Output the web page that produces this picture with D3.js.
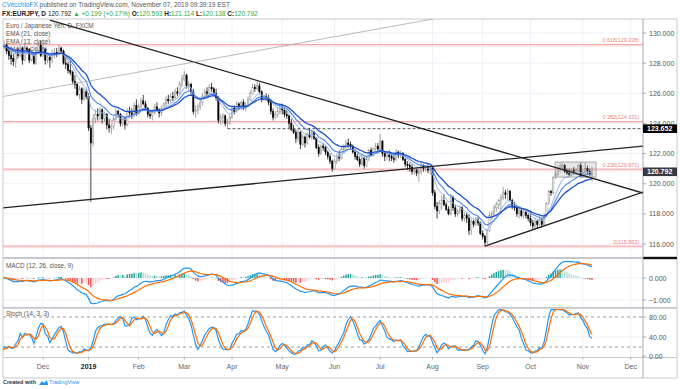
<!DOCTYPE html>
<html>
<head>
<meta charset="utf-8">
<script src="https://cdn.jsdelivr.net/npm/d3@7"></script>
<style>
  body { margin: 0; background: #fff; }
  svg { display: block; font-family: "Liberation Sans", Arial, sans-serif; }
</style>
</head>
<body>
<svg id="chart" width="680" height="389"></svg>
<script>
// daily EURJPY bars [open, high, low, close], Nov 7 2018 -> Nov 7 2019
var candles = [
  // Nov 2018
  [129.6,129.9,129.0,129.1],[129.1,129.5,128.9,129.2],[129.2,129.3,128.6,128.8],[128.8,129.0,128.2,128.5],
  [128.5,128.8,127.9,128.3],[128.3,128.6,127.8,128.1],[128.1,128.9,127.7,128.7],[128.7,129.0,128.3,128.5],
  [128.5,129.2,128.4,129.0],[129.0,129.1,127.9,128.2],[128.2,129.3,128.1,129.0],[129.0,129.1,128.6,128.9],
  [128.9,129.0,128.0,128.2],[128.2,128.8,128.1,128.6],[128.6,128.7,127.9,128.0],[128.0,129.0,127.9,128.8],
  [128.8,129.4,128.6,129.2],[129.2,129.5,128.4,128.5],
  // Dec 2018
  [128.5,129.3,128.4,128.9],[128.9,129.0,127.9,128.2],[128.2,128.6,128.0,128.4],[128.4,128.6,127.7,128.2],
  [128.2,128.9,128.0,128.6],[128.6,129.0,128.3,128.7],[128.7,129.0,128.4,128.6],[128.6,129.2,128.5,129.0],
  [129.0,129.1,128.6,128.8],[128.8,128.9,127.9,128.0],[128.0,128.4,127.6,127.9],[127.9,128.1,127.3,127.5],
  [127.5,128.2,127.2,127.4],[127.4,127.5,126.6,126.8],[126.8,127.2,126.3,126.6],[126.6,126.7,125.8,125.9],
  [125.9,126.5,125.6,126.3],[126.3,126.4,125.3,125.6],[125.6,126.4,125.5,126.1],[126.1,126.3,125.6,125.8],
  // Jan 2019
  [125.8,126.0,123.5,123.7],[123.7,123.9,118.8,122.7],[122.7,124.6,122.5,124.3],[124.3,124.9,124.0,124.6],
  [124.6,125.0,124.2,124.5],[124.5,125.1,124.2,124.9],[124.9,125.0,124.0,124.3],[124.3,124.8,124.1,124.6],
  [124.6,124.7,123.6,123.9],[123.9,124.3,123.4,123.7],[123.7,124.0,123.3,123.8],[123.8,124.5,123.6,124.3],
  [124.3,125.0,124.2,124.8],[124.8,124.9,124.4,124.6],[124.6,124.7,123.8,124.0],[124.0,124.5,123.8,124.3],
  [124.3,124.5,123.6,123.9],[123.9,125.0,123.8,124.8],[124.8,125.1,124.4,124.7],[124.7,125.0,124.3,124.6],
  [124.6,125.4,124.4,125.2],[125.2,125.6,124.5,124.7],
  // Feb 2019
  [124.7,125.3,124.6,125.1],[125.1,125.7,125.0,125.5],[125.5,125.9,125.2,125.3],[125.3,125.5,124.9,125.0],
  [125.0,125.1,124.4,124.6],[124.6,124.8,124.3,124.5],[124.5,124.9,124.2,124.7],[124.7,125.3,124.6,125.1],
  [125.1,125.4,124.8,124.9],[124.9,125.0,124.4,124.7],[124.7,125.2,124.5,125.0],[125.0,125.4,124.9,125.3],
  [125.3,125.8,125.1,125.6],[125.6,125.9,125.3,125.5],[125.5,126.0,125.4,125.8],[125.8,126.1,125.5,125.7],
  [125.7,126.3,125.6,126.1],[126.1,126.4,125.8,126.0],[126.0,126.8,125.9,126.6],[126.6,127.2,126.4,127.0],
  // Mar 2019
  [126.9,127.5,126.8,127.2],[127.2,127.3,126.3,126.5],[126.5,126.8,126.2,126.6],[126.6,126.7,125.9,126.1],
  [126.1,126.3,124.6,124.8],[124.8,125.2,124.4,124.9],[124.9,125.3,124.6,125.1],[125.1,125.6,124.9,125.4],
  [125.4,126.0,125.2,125.8],[125.8,126.3,125.6,126.1],[126.1,126.4,125.8,126.0],[126.0,126.6,125.9,126.4],
  [126.4,126.7,126.1,126.3],[126.3,126.4,125.8,126.0],[126.0,126.3,125.5,125.7],[125.7,125.8,124.0,124.2],
  [124.2,124.6,123.9,124.4],[124.4,124.7,124.0,124.5],[124.5,124.6,123.8,124.0],[124.0,124.3,123.65,124.1],
  [124.1,124.6,123.9,124.4],
  // Apr 2019
  [124.4,125.2,124.3,125.0],[125.0,125.2,124.6,124.8],[124.8,125.5,124.7,125.3],[125.3,125.4,124.9,125.1],
  [125.1,125.5,124.9,125.4],[125.4,125.6,124.9,125.0],[125.0,125.4,124.8,125.2],[125.2,125.8,125.1,125.6],
  [125.6,126.2,125.5,126.0],[126.0,126.6,125.9,126.4],[126.4,126.6,126.1,126.3],[126.3,126.8,126.2,126.5],
  [126.5,126.7,126.0,126.1],[126.1,126.2,125.4,125.6],[125.6,125.9,125.5,125.8],[125.8,126.0,125.5,125.7],
  [125.7,125.9,125.2,125.4],[125.4,125.5,124.6,124.8],[124.8,125.0,124.2,124.4],[124.4,124.8,124.3,124.6],
  [124.6,125.0,124.4,124.8],[124.8,125.2,124.6,125.0],
  // May 2019
  [125.0,125.3,124.6,124.9],[124.9,125.0,124.4,124.6],[124.6,124.9,124.3,124.5],[124.5,124.6,123.7,124.0],
  [124.0,124.3,123.5,123.6],[123.6,123.9,123.3,123.4],[123.4,123.6,122.7,123.0],[123.0,123.6,122.8,123.4],
  [123.4,123.5,122.3,122.6],[122.6,123.3,122.5,123.1],[123.1,123.2,122.4,122.7],[122.7,123.4,122.6,123.3],
  [123.3,123.7,123.0,123.1],[123.1,123.6,122.9,123.4],[123.4,123.5,122.9,123.0],[123.0,123.1,122.3,122.4],
  [122.4,122.6,121.8,122.0],[122.0,122.6,121.9,122.5],[122.5,122.7,122.2,122.4],[122.4,122.5,121.9,122.1],
  [122.1,122.2,121.6,121.8],[121.8,122.0,121.3,121.5],[121.5,121.6,120.8,121.0],
  // Jun 2019
  [121.0,121.7,120.9,121.5],[121.5,122.0,121.3,121.8],[121.8,122.2,121.5,121.7],[121.7,122.5,121.6,122.3],
  [122.3,122.6,122.0,122.4],[122.4,122.9,122.2,122.7],[122.7,123.0,122.4,122.6],[122.6,122.8,122.3,122.5],
  [122.5,122.6,122.0,122.1],[122.1,122.3,121.6,121.8],[121.8,122.0,121.5,121.6],[121.6,121.8,121.1,121.3],
  [121.3,121.9,121.2,121.7],[121.7,121.8,121.0,121.2],[121.2,121.8,121.1,121.6],[121.6,122.3,121.5,122.2],
  [122.2,122.4,121.8,121.9],[121.9,122.4,121.8,122.3],[122.3,122.7,122.2,122.5],[122.5,122.7,122.1,122.3],
  // Jul 2019
  [122.3,123.3,122.2,122.8],[122.8,122.9,121.8,122.0],[122.0,122.1,121.5,121.8],[121.8,122.0,121.6,121.9],
  [121.9,122.2,121.5,121.8],[121.8,122.0,121.5,121.7],[121.7,121.9,121.4,121.6],[121.6,122.3,121.5,122.1],
  [122.1,122.2,121.7,121.9],[121.9,122.2,121.7,122.0],[122.0,122.1,121.5,121.6],[121.6,121.7,121.1,121.3],
  [121.3,121.5,120.9,121.2],[121.2,121.4,120.8,121.1],[121.1,121.3,120.6,120.8],[120.8,121.0,120.6,120.9],
  [120.9,121.0,120.5,120.7],[120.7,121.0,120.1,120.8],[120.8,121.4,120.6,121.2],[121.2,121.3,120.8,121.0],
  [121.0,121.2,120.8,121.1],[121.1,121.3,120.7,120.9],[120.9,121.2,120.6,121.0],
  // Aug 2019
  [121.0,121.1,119.2,119.4],[119.4,119.6,118.3,118.5],[118.5,118.8,117.7,118.2],[118.2,118.9,118.0,118.7],
  [118.7,119.2,118.3,118.9],[118.9,119.3,118.5,118.6],[118.6,118.8,118.2,118.3],[118.3,118.5,117.9,118.0],
  [118.0,119.3,117.9,119.1],[119.1,119.2,118.2,118.4],[118.4,118.6,117.8,118.0],[118.0,118.3,117.8,118.2],
  [118.2,118.6,118.0,118.4],[118.4,118.5,117.5,117.7],[117.7,118.1,117.5,117.9],[117.9,118.1,117.4,117.7],
  [117.7,118.0,116.6,116.9],[116.9,117.7,116.6,117.5],[117.5,117.6,117.1,117.3],[117.3,117.8,117.2,117.6],
  [117.6,117.8,117.2,117.4],[117.4,117.5,116.6,116.7],
  // Sep 2019
  [116.7,116.9,116.3,116.5],[116.5,116.6,115.86,116.1],[116.1,117.0,116.0,116.9],[116.9,118.1,116.8,117.9],
  [117.9,118.2,117.6,118.0],[118.0,118.6,117.8,118.4],[118.4,118.8,118.1,118.6],[118.6,119.0,118.3,118.9],
  [118.9,119.3,118.0,119.1],[119.1,119.8,118.9,119.4],[119.4,119.6,119.0,119.3],[119.3,119.7,118.9,119.5],
  [119.5,119.6,118.8,118.9],[118.9,119.0,118.3,118.5],[118.5,118.8,118.2,118.4],[118.4,118.6,117.8,118.0],
  [118.0,118.5,117.7,118.2],[118.2,118.4,117.8,117.9],[117.9,118.3,117.7,118.1],[118.1,118.3,117.7,117.9],
  [117.9,118.0,117.5,117.7],
  // Oct 2019
  [117.7,118.0,117.2,117.4],[117.4,117.6,117.0,117.2],[117.2,117.7,116.96,117.5],[117.5,117.6,117.0,117.3],
  [117.3,117.8,117.2,117.6],[117.6,117.7,117.1,117.3],[117.3,118.0,117.2,117.9],[117.9,118.8,117.8,118.7],
  [118.7,119.6,118.6,119.5],[119.5,119.6,119.2,119.4],[119.4,120.5,119.3,120.4],[120.4,120.8,120.3,120.6],
  [120.6,121.2,120.5,121.0],[121.0,121.4,120.8,121.1],[121.1,121.4,120.9,121.2],[121.2,121.3,120.7,120.8],
  [120.8,121.0,120.6,120.7],[120.7,121.0,120.5,120.6],[120.6,121.0,120.5,120.9],[120.9,121.1,120.7,120.8],
  [120.8,121.0,120.7,120.9],[120.9,121.3,120.8,121.2],[121.2,121.4,120.4,120.5],
  // Nov 2019
  [120.5,120.9,120.4,120.7],[120.7,121.4,120.6,121.0],[121.0,121.2,120.6,120.8],[120.8,121.0,120.5,120.6],
  [120.593,121.114,120.138,120.792]
];

var priceTicks = [116, 118, 120, 122, 124, 126, 128, 130];
var macdTicks = [0, -1];
var stochTicks = [80, 40, 0];
var stochBands = [80, 20];
var monthLabels = ["Dec", "2019", "Feb", "Mar", "Apr", "May", "Jun", "Jul", "Aug", "Sep", "Oct", "Nov", "Dec"];
var fibLevels = [
  { ratio: "0.618", value: 129.238 },
  { ratio: "0.382", value: 124.131 },
  { ratio: "0.236", value: 120.971 },
  { ratio: "0", value: 115.863 }
];
// drawings: [bar index, price] anchors
var trendLines = [
  { a: [21, 130.86], b: [281.4, 119.38], color: "#222", w: 1.3 },
  { a: [-0.9, 125.75], b: [191.8, 131.0], color: "#a8a8a8", w: 0.8 },
  { a: [0.4, 118.39], b: [281.4, 122.5], color: "#222", w: 1.3 },
  { a: [212, 115.86], b: [281.4, 119.45], color: "#222", w: 1.3 }
];
var dashedLevel = { from: 99, value: 123.652 };
var boxZone = { from: 242.8, to: 260.8, top: 121.44, bottom: 120.44 };
var lastPrice = 120.792;

// weekday calendar (FXCM skips Dec 25 and Jan 1)
var skipDays = ["2018-12-25", "2019-01-01"];
var dates = [];
for (var d = new Date(Date.UTC(2018, 10, 7)); d <= new Date(Date.UTC(2019, 11, 6)); d.setUTCDate(d.getUTCDate() + 1)) {
  var wd = d.getUTCDay();
  var iso = d.toISOString().slice(0, 10);
  if (wd === 0 || wd === 6 || skipDays.indexOf(iso) >= 0) continue;
  dates.push(new Date(d));
}

var left = 3, right = 643;
var pMain = { top: 19, bottom: 257 };
var pMacd = { top: 259, bottom: 307 };
var pStoch = { top: 308.5, bottom: 357 };

var svg = d3.select("#chart");

var x = d3.scaleLinear().domain([0, 276]).range([2, 2 + 276 * 2.278]);
var y = d3.scaleLinear().domain([116, 130]).range([244, 33]);
var yM = d3.scaleLinear().domain([-1, 0]).range([300, 278]);
var yS = d3.scaleLinear().domain([0, 100]).range([357, 307]);

// indicators
function ema(vals, n) {
  var k = 2 / (n + 1), out = [], prev = vals[0];
  vals.forEach(function(v, i) { prev = i === 0 ? v : v * k + prev * (1 - k); out.push(prev); });
  return out;
}
function sma(vals, n) {
  return vals.map(function(v, i) {
    return d3.mean(vals.slice(Math.max(0, i - n + 1), i + 1));
  });
}
var closes = candles.map(function(c) { return c[3]; });
var ema8 = ema(closes, 8), ema13 = ema(closes, 13), ema21 = ema(closes, 21);
var e12 = ema(closes, 12), e26 = ema(closes, 26);
var macd = closes.map(function(c, i) { return e12[i] - e26[i]; });
var signal = ema(macd, 9);
var hist = macd.map(function(m, i) { return m - signal[i]; });
var rawK = candles.map(function(c, i) {
  var w = candles.slice(Math.max(0, i - 13), i + 1);
  var hh = d3.max(w, function(b) { return b[1]; }), ll = d3.min(w, function(b) { return b[2]; });
  return hh === ll ? 50 : 100 * (c[3] - ll) / (hh - ll);
});
var stK = sma(rawK, 3), stD = sma(stK, 3);

// clip paths
var defs = svg.append("defs");
[["clipMain", pMain], ["clipMacd", pMacd], ["clipStoch", pStoch]].forEach(function(p) {
  defs.append("clipPath").attr("id", p[0]).append("rect")
    .attr("x", left).attr("y", p[1].top).attr("width", right - left).attr("height", p[1].bottom - p[1].top);
});

// month positions
var monthIdx = [];
dates.forEach(function(dt, i) {
  if (i > 0 && dt.getUTCMonth() !== dates[i - 1].getUTCMonth()) monthIdx.push(i);
});

// grid
var grid = svg.append("g").attr("stroke", "#edf1f7").attr("stroke-width", 1);
monthIdx.forEach(function(i) {
  grid.append("line").attr("x1", x(i)).attr("x2", x(i)).attr("y1", pMain.top).attr("y2", pStoch.bottom);
});
priceTicks.forEach(function(t) {
  grid.append("line").attr("x1", left).attr("x2", right).attr("y1", y(t)).attr("y2", y(t));
});
macdTicks.forEach(function(t) {
  grid.append("line").attr("x1", left).attr("x2", right).attr("y1", yM(t)).attr("y2", yM(t));
});
grid.append("line").attr("x1", left).attr("x2", right).attr("y1", yS(40)).attr("y2", yS(40));

// legends
var leg = svg.append("g").attr("fill", "#555").style("font-size", "6.3px");
leg.append("text").attr("x", 6).attr("y", 28).text("Euro / Japanese Yen, D, FXCM");
leg.append("text").attr("x", 6).attr("y", 36).text("EMA (21, close)");
leg.append("text").attr("x", 6).attr("y", 43.5).text("EMA (13, close)");
leg.append("text").attr("x", 6).attr("y", 51).text("EMA (8, close)");
leg.append("text").attr("x", 6).attr("y", 268).text("MACD (12, 26, close, 9)");
leg.append("text").attr("x", 6).attr("y", 315.5).text("Stoch (14, 3, 3)");

// fib levels
var fib = svg.append("g").attr("clip-path", "url(#clipMain)");
fibLevels.forEach(function(f) {
  fib.append("rect").attr("x", left).attr("width", right - left)
    .attr("y", y(f.value)).attr("height", 2.2).attr("fill", "#fde4e4");
  fib.append("line").attr("x1", left).attr("x2", right).attr("y1", y(f.value)).attr("y2", y(f.value))
    .attr("stroke", "#f3a3a3").attr("stroke-width", 1);
  fib.append("text").attr("x", 639).attr("y", y(f.value) - 2).attr("text-anchor", "end")
    .attr("fill", "#ef7f7f").style("font-size", "5.4px").text(f.ratio + "(" + f.value.toFixed(3) + ")");
});

// candles
var cg = svg.append("g").attr("clip-path", "url(#clipMain)");
function isUp(c) { return c[3] >= c[0]; }
cg.selectAll("line.wick").data(candles).enter().append("line")
  .attr("x1", function(c, i) { return x(i); }).attr("x2", function(c, i) { return x(i); })
  .attr("y1", function(c) { return y(c[1]); }).attr("y2", function(c) { return y(c[2]); })
  .attr("stroke", function(c) { return isUp(c) ? "#8c8c8c" : "#111"; }).attr("stroke-width", 0.8);
cg.selectAll("rect.body").data(candles).enter().append("rect")
  .attr("x", function(c, i) { return x(i) - 0.65; }).attr("width", 1.3)
  .attr("y", function(c) { return y(Math.max(c[0], c[3])); })
  .attr("height", function(c) { return Math.max(0.5, Math.abs(y(c[0]) - y(c[3]))); })
  .attr("fill", function(c) { return isUp(c) ? "#fff" : "#000"; })
  .attr("stroke", function(c) { return isUp(c) ? "#8c8c8c" : "#000"; }).attr("stroke-width", 0.5);

// EMAs
var emaLine = d3.line().x(function(v, i) { return x(i); }).y(function(v) { return y(v); });
[[ema8, "#8fb3ee", 1], [ema13, "#4f86e6", 1.1], [ema21, "#1d4fcf", 1.3]].forEach(function(e) {
  cg.append("path").attr("d", emaLine(e[0])).attr("fill", "none")
    .attr("stroke", e[1]).attr("stroke-width", e[2]);
});

// drawings
var dr = svg.append("g").attr("clip-path", "url(#clipMain)");
dr.append("rect").attr("x", x(boxZone.from)).attr("width", x(boxZone.to) - x(boxZone.from))
  .attr("y", y(boxZone.top)).attr("height", y(boxZone.bottom) - y(boxZone.top))
  .attr("fill", "rgba(140,140,140,0.22)").attr("stroke", "#9a9a9a").attr("stroke-width", 0.8);
dr.append("line").attr("x1", x(dashedLevel.from)).attr("x2", right)
  .attr("y1", y(dashedLevel.value)).attr("y2", y(dashedLevel.value))
  .attr("stroke", "#555").attr("stroke-width", 1).attr("stroke-dasharray", "3,2");
trendLines.forEach(function(t) {
  dr.append("line").attr("x1", x(t.a[0])).attr("y1", y(t.a[1])).attr("x2", x(t.b[0])).attr("y2", y(t.b[1]))
    .attr("stroke", t.color).attr("stroke-width", t.w);
});

// MACD pane
var mg = svg.append("g").attr("clip-path", "url(#clipMacd)");
mg.selectAll("rect").data(hist).enter().append("rect")
  .attr("x", function(h, i) { return x(i) - 0.75; }).attr("width", 1.5)
  .attr("y", function(h) { return Math.min(yM(h), yM(0)); })
  .attr("height", function(h) { return Math.abs(yM(h) - yM(0)); })
  .attr("fill", function(h, i) {
    var p = i > 0 ? hist[i - 1] : h;
    if (h >= 0) return h > p ? "#26a69a" : "#b2dfdb";
    return h < p ? "#ef5350" : "#ffcdd2";
  });
var mLine = d3.line().x(function(v, i) { return x(i); }).y(function(v) { return yM(v); });
mg.append("path").attr("d", mLine(macd)).attr("fill", "none").attr("stroke", "#2196f3").attr("stroke-width", 1.2);
mg.append("path").attr("d", mLine(signal)).attr("fill", "none").attr("stroke", "#ff6d00").attr("stroke-width", 1.2);

// Stoch pane
var sg = svg.append("g").attr("clip-path", "url(#clipStoch)");
stochBands.forEach(function(b) {
  sg.append("line").attr("x1", left).attr("x2", right).attr("y1", yS(b)).attr("y2", yS(b))
    .attr("stroke", "#a0a0a0").attr("stroke-width", 1).attr("stroke-dasharray", "3,3");
});
var sLine = d3.line().x(function(v, i) { return x(i); }).y(function(v) { return yS(v); });
sg.append("path").attr("d", sLine(stK)).attr("fill", "none").attr("stroke", "#2196f3").attr("stroke-width", 1.2);
sg.append("path").attr("d", sLine(stD)).attr("fill", "none").attr("stroke", "#ff6d00").attr("stroke-width", 1.2);

// frame and separators
var fr = svg.append("g");
fr.append("rect").attr("x", left).attr("y", pMain.top).attr("width", 677 - left).attr("height", 378 - pMain.top)
  .attr("fill", "none").attr("stroke", "#b8bcc4").attr("stroke-width", 0.8);
[258, 307.8].forEach(function(s) {
  fr.append("line").attr("x1", left).attr("x2", right).attr("y1", s).attr("y2", s)
    .attr("stroke", "#c4c7cd").attr("stroke-width", 1.8);
});
fr.append("rect").attr("x", right).attr("y", 256.8).attr("width", 677 - right).attr("height", 2.4).attr("fill", "#111");
fr.append("line").attr("x1", right).attr("x2", 677).attr("y1", 307.8).attr("y2", 307.8)
  .attr("stroke", "#c4c7cd").attr("stroke-width", 1.8);
fr.append("line").attr("x1", left).attr("x2", 677).attr("y1", pStoch.bottom + 0.5).attr("y2", pStoch.bottom + 0.5)
  .attr("stroke", "#b8bcc4").attr("stroke-width", 0.8);
fr.append("line").attr("x1", right).attr("x2", right).attr("y1", pMain.top).attr("y2", 378)
  .attr("stroke", "#9598a1").attr("stroke-width", 0.8);

// right axis
var ax = svg.append("g").style("font-size", "7px").attr("fill", "#555");
function axisLabel(yy, txt) {
  ax.append("line").attr("x1", right).attr("x2", right + 3).attr("y1", yy).attr("y2", yy)
    .attr("stroke", "#9598a1").attr("stroke-width", 0.8);
  ax.append("text").attr("x", right + 6).attr("y", yy + 2.5).text(txt);
}
priceTicks.forEach(function(t) { axisLabel(y(t), d3.format(".3f")(t)); });
macdTicks.forEach(function(t) { axisLabel(yM(t), d3.format(".3f")(t).replace("-", "\u2212")); });
stochTicks.forEach(function(t) { axisLabel(yS(t) - (t === 0 ? 1 : 0), d3.format(".2f")(t)); });

function priceTag(v, bg) {
  ax.append("rect").attr("x", right).attr("y", y(v) - 4.3).attr("width", 34).attr("height", 8.6).attr("fill", bg);
  ax.append("text").attr("x", right + 4).attr("y", y(v) + 2.5).attr("fill", "#fff")
    .style("font-weight", "bold").text(v.toFixed(3));
}
priceTag(dashedLevel.value, "#000");
priceTag(lastPrice, "#363a45");

// time axis
var tx = svg.append("g").style("font-size", "7px").attr("text-anchor", "middle");
monthIdx.forEach(function(i, k) {
  tx.append("line").attr("x1", x(i)).attr("x2", x(i)).attr("y1", pStoch.bottom).attr("y2", pStoch.bottom + 2.5)
    .attr("stroke", "#9598a1").attr("stroke-width", 0.8);
  tx.append("text").attr("x", x(i)).attr("y", 369)
    .attr("fill", monthLabels[k] === "2019" ? "#222" : "#666")
    .style("font-weight", monthLabels[k] === "2019" ? "bold" : "normal")
    .text(monthLabels[k]);
});

// header
var green = "#2eaa4a";
var h1 = svg.append("text").attr("x", 2).attr("y", 7).style("font-size", "6.5px");
h1.append("tspan").attr("fill", "#2196f3").text("CVecchioFX");
h1.append("tspan").attr("fill", "#555").text(" published on TradingView.com, November 07, 2019 09:39:19 EST");
var h2 = svg.append("text").attr("x", 2).attr("y", 15.5).style("font-size", "6.5px");
[["FX:EURJPY, D ", "#222", true], ["120.792 ", "#222", false], ["\u25B2", green, false], [" +0.199 (+0.17%) ", green, false],
 ["O:", "#222", true], ["120.593", green, false], [" H:", "#222", true], ["121.114", green, false],
 [" L:", "#222", true], ["120.138", green, false], [" C:", "#222", true], ["120.792", green, false]].forEach(function(s) {
  h2.append("tspan").attr("fill", s[1]).style("font-weight", s[2] ? "bold" : "normal").text(s[0]);
});

// footer
var ft = svg.append("g");
ft.append("text").attr("x", 3).attr("y", 384).attr("fill", "#333").style("font-size", "5.5px")
  .style("font-weight", "bold").text("Created with");
ft.append("path").attr("d", "M39,385 l3,-4 l2,2 l3,-3 l1,5 z").attr("fill", "#2196f3");
ft.append("text").attr("x", 49).attr("y", 384).attr("fill", "#2196f3").style("font-size", "5.5px").text("TradingView");
</script>
</body>
</html>
